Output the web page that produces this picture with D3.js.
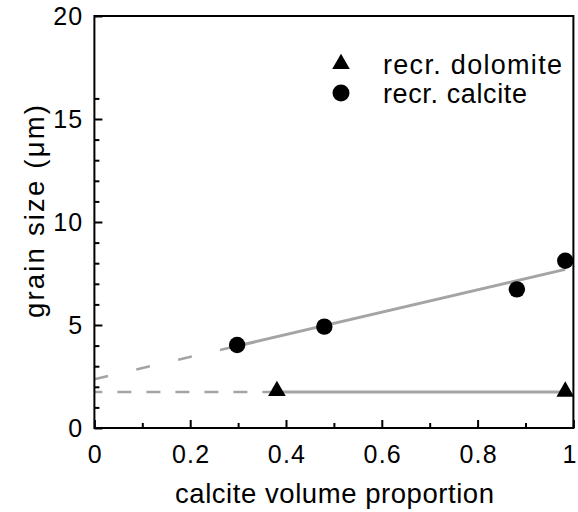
<!DOCTYPE html>
<html><head><meta charset="utf-8">
<script src="https://cdn.jsdelivr.net/npm/d3@7"></script>
<style>
html,body{margin:0;padding:0;background:#fff;}
svg{display:block;font-family:"Liberation Sans",Arial,Helvetica,sans-serif;}
</style></head>
<body><svg id="c" width="578" height="512"></svg>
<script>
// ---- data ----
const xTicks = [0, 0.2, 0.4, 0.6, 0.8, 1];
const xTickLabels = ["0", "0.2", "0.4", "0.6", "0.8", "1"];
const xMinor = [0.1, 0.3, 0.5, 0.7, 0.9];
const yTicks = [0, 5, 10, 15, 20];
const yTickLabels = ["0", "5", "10", "15", "20"];
const yMinor = [1, 2, 3, 4, 6, 7, 8, 9, 11, 12, 13, 14, 16];

const calciteX = [0.298, 0.48, 0.882, 0.983];
const calciteY = [4.03, 4.92, 6.73, 8.12];
const dolomiteX = [0.381, 0.983];
const dolomiteY = [1.75, 1.72];

// fitted trend lines: [start, end of dashed part / start of solid, end]
const calciteFitX = [0, 0.298, 0.983];
const calciteFitY = [2.37, 3.98, 7.70];
const dolomiteFitX = [0, 0.381, 0.983];
const dolomiteFitY = [1.75, 1.75, 1.75];

const legendLabels = ["recr. dolomite", "recr. calcite"];
const xLabel = "calcite volume proportion";
const yLabel = "grain size (\u03bcm)";

// ---- drawing ----
const svg = d3.select("#c");
const x = d3.scaleLinear().domain([0, 1]).range([94.4, 573.4]);
const y = d3.scaleLinear().domain([0, 20]).range([428, 16]);
const lineGray = "#a4a4a4";

function trend(xs, ys, dash, offset) {
  svg.append("line")
    .attr("x1", x(xs[0])).attr("y1", y(ys[0]))
    .attr("x2", x(xs[1])).attr("y2", y(ys[1]))
    .attr("stroke", lineGray).attr("stroke-width", 2.5)
    .attr("stroke-dasharray", dash).attr("stroke-dashoffset", offset);
  svg.append("line")
    .attr("x1", x(xs[1])).attr("y1", y(ys[1]))
    .attr("x2", x(xs[2])).attr("y2", y(ys[2]))
    .attr("stroke", lineGray).attr("stroke-width", 3);
}
trend(calciteFitX, calciteFitY, "14,29", 0);
trend(dolomiteFitX, dolomiteFitY, "14,15", 6);

// axes frame
svg.append("rect")
  .attr("x", x(0)).attr("y", y(20))
  .attr("width", x(1) - x(0)).attr("height", y(0) - y(20))
  .attr("fill", "none").attr("stroke", "#000").attr("stroke-width", 2);

function ticks(axis) {
  return g => g.call(axis).call(s => s.select(".domain").remove())
    .call(s => s.selectAll("line").attr("stroke-width", 2));
}
svg.append("g").attr("transform", `translate(${x(0)},0)`)
  .call(ticks(d3.axisRight(y).tickValues(yTicks).tickSize(8).tickFormat("")));
svg.append("g").attr("transform", `translate(${x(0)},0)`)
  .call(ticks(d3.axisRight(y).tickValues(yMinor).tickSize(5).tickFormat("")));
svg.append("g").attr("transform", `translate(0,${y(0)})`)
  .call(ticks(d3.axisTop(x).tickValues(xTicks).tickSize(8).tickFormat("")));
svg.append("g").attr("transform", `translate(0,${y(0)})`)
  .call(ticks(d3.axisTop(x).tickValues(xMinor).tickSize(5).tickFormat("")));

// tick labels
svg.append("g").selectAll("text").data(xTicks).join("text")
  .attr("x", d => Math.min(x(d) + 1, 570)).attr("y", y(0) + 35)
  .attr("text-anchor", "middle").attr("font-size", 25)
  .attr("letter-spacing", "1.2px")
  .text((d, i) => xTickLabels[i]);
svg.append("g").selectAll("text").data(yTicks).join("text")
  .attr("x", x(0) - 11).attr("y", d => y(d)).attr("dy", "0.36em")
  .attr("text-anchor", "end").attr("font-size", 25)
  .attr("letter-spacing", "1.2px")
  .text((d, i) => yTickLabels[i]);

// axis titles
svg.append("text")
  .attr("x", 175).attr("y", 503)
  .attr("font-size", 27.5)
  .attr("textLength", 319).attr("lengthAdjust", "spacing")
  .text(xLabel);
svg.append("text")
  .attr("transform", "translate(44,318) rotate(-90)")
  .attr("font-size", 27.5)
  .attr("textLength", 213).attr("lengthAdjust", "spacing")
  .text(yLabel);

// data markers
const tri = d3.symbol().type(d3.symbolTriangle).size(135);
svg.append("g").selectAll("path").data(dolomiteX).join("path")
  .attr("d", tri)
  .attr("transform", (d, i) => `translate(${x(d)},${y(dolomiteY[i]) - 1})`)
  .attr("fill", "#000");
svg.append("g").selectAll("circle").data(calciteX).join("circle")
  .attr("cx", d => x(d)).attr("cy", (d, i) => y(calciteY[i]))
  .attr("r", 8.2).attr("fill", "#000");

// legend
const leg = svg.append("g");
leg.append("path").attr("d", tri).attr("transform", "translate(341,64)").attr("fill", "#000");
leg.append("circle").attr("cx", 341).attr("cy", 93).attr("r", 8.5).attr("fill", "#000");
const legWidths = [179, 144];
leg.selectAll("text").data(legendLabels).join("text")
  .attr("x", 383).attr("y", (d, i) => 74 + i * 28.5)
  .attr("font-size", 27)
  .attr("textLength", (d, i) => legWidths[i]).attr("lengthAdjust", "spacing")
  .text(d => d);
</script>
</body></html>
